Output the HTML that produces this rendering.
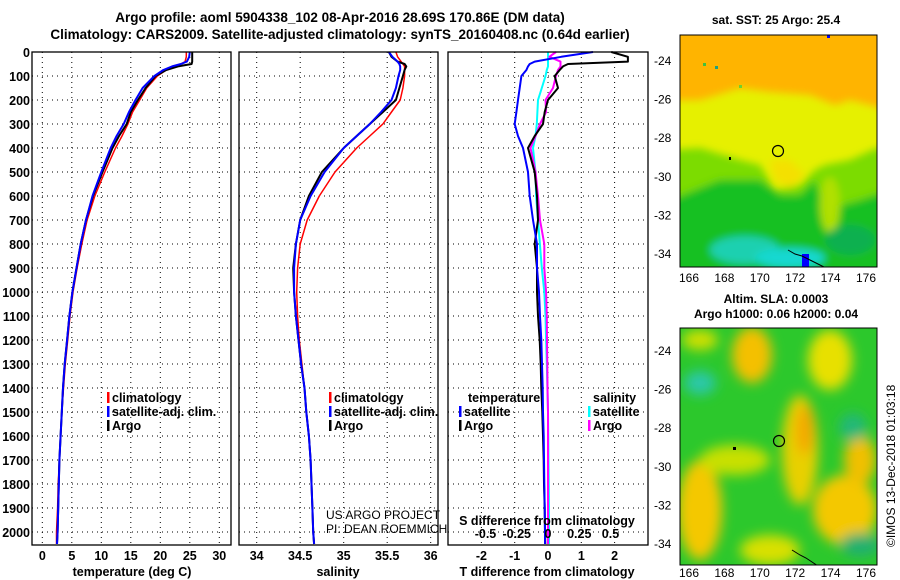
<!DOCTYPE html>
<html><head><meta charset="utf-8">
<style>
html,body{margin:0;padding:0;background:#fff;}
svg{display:block;font-family:"Liberation Sans",Arial,sans-serif;font-weight:bold;}
</style></head>
<body>
<svg id="chart" width="900" height="580" viewBox="0 0 900 580">
<defs>
<filter id="blur4" x="-20%" y="-20%" width="140%" height="140%"><feGaussianBlur stdDeviation="6"/></filter>
<filter id="blur3" x="-20%" y="-20%" width="140%" height="140%"><feGaussianBlur stdDeviation="4"/></filter>
<clipPath id="clipTop"><rect x="680" y="35" width="197" height="232"/></clipPath>
<clipPath id="clipBot"><rect x="680" y="328" width="197" height="237"/></clipPath>
</defs>
<text x="340" y="22" font-size="13.5" text-anchor="middle">Argo profile: aoml 5904338_102 08-Apr-2016 28.69S 170.86E (DM data)</text>
<text x="340" y="39" font-size="13.5" text-anchor="middle">Climatology: CARS2009. Satellite-adjusted climatology: synTS_20160408.nc (0.64d earlier)</text>
<g id="grid"></g>
<g id="series"></g>
<g id="frames"></g>
<g id="labels"></g>

<!-- top map -->
<g clip-path="url(#clipTop)">
<rect x="680" y="35" width="197" height="232" fill="#e6f000"/>
<g filter="url(#blur3)">
<path d="M670 25 L890 25 L890 110 L850 100 L835 105 L810 95 L770 92 L740 88 L700 100 L670 100Z" fill="#ffb400"/>
<path d="M670 150 L700 148 L740 160 L760 165 L775 190 L800 185 L815 170 L825 165 L850 160 L877 148 L890 150 L890 280 L670 280Z" fill="#7cdc00"/>
<path d="M670 200 L720 180 L760 180 L780 195 L800 195 L815 180 L825 210 L860 200 L890 190 L890 280 L670 280Z" fill="#18c020"/>
<ellipse cx="830" cy="205" rx="10" ry="28" fill="#b0e000"/>
<path d="M770 160 L790 160 L805 175 L790 188 L775 180Z" fill="#f4e000"/>
<ellipse cx="745" cy="250" rx="35" ry="14" fill="#1ad0b0"/>
<ellipse cx="790" cy="258" rx="35" ry="10" fill="#18d8d0"/>
<ellipse cx="850" cy="240" rx="25" ry="15" fill="#10b050"/>
</g>
<rect x="703" y="63" width="3" height="3" fill="#40c040"/>
<rect x="715" y="66" width="3" height="3" fill="#20a080"/>
<rect x="739" y="85" width="3" height="3" fill="#70d030"/>
<rect x="802" y="254" width="7" height="13" fill="#0000ff"/>
<rect x="827" y="35" width="3" height="3" fill="#0000ff"/>
<path d="M788 250 L795 254 L802 256 L808 259 L814 262 L820 265 L826 268" stroke="#000" fill="none" stroke-width="1"/>
<circle cx="778" cy="151" r="5.5" fill="none" stroke="#000" stroke-width="1.2"/>
<rect x="729" y="157" width="2" height="3" fill="#000"/>
</g>
<rect x="680" y="35" width="197" height="232" fill="none" stroke="#000"/>
<text x="776" y="24" font-size="12" text-anchor="middle">sat. SST: 25 Argo: 25.4</text>

<!-- bottom map -->
<g clip-path="url(#clipBot)">
<rect x="680" y="328" width="197" height="237" fill="#2cc82c"/>
<g filter="url(#blur4)">
<ellipse cx="752" cy="355" rx="20" ry="28" fill="#f4c000"/>
<ellipse cx="830" cy="360" rx="22" ry="30" fill="#e8e000"/>
<ellipse cx="700" cy="340" rx="18" ry="10" fill="#d0e000"/>
<ellipse cx="800" cy="450" rx="18" ry="55" fill="#e8d000"/>
<ellipse cx="805" cy="430" rx="9" ry="25" fill="#f4a800"/>
<ellipse cx="700" cy="510" rx="22" ry="50" fill="#f4c800"/>
<ellipse cx="735" cy="460" rx="35" ry="15" fill="#c8e000"/>
<ellipse cx="845" cy="510" rx="32" ry="35" fill="#f4c800"/>
<ellipse cx="860" cy="460" rx="16" ry="25" fill="#f0c000"/>
<ellipse cx="770" cy="550" rx="30" ry="15" fill="#d8e000"/>
<ellipse cx="700" cy="383" rx="16" ry="12" fill="#2cc8a8"/>
<ellipse cx="853" cy="427" rx="14" ry="14" fill="#20b878"/>
<ellipse cx="860" cy="545" rx="20" ry="12" fill="#20b070"/>
</g>
<path d="M792 550 L800 555 L806 558 L812 562 L818 566" stroke="#000" fill="none"/>
<circle cx="779" cy="441" r="5.5" fill="none" stroke="#000" stroke-width="1.2"/>
<rect x="733" y="447" width="3" height="3" fill="#000"/>
</g>
<rect x="680" y="328" width="197" height="237" fill="none" stroke="#000"/>
<text x="776" y="303" font-size="12" text-anchor="middle">Altim. SLA: 0.0003</text>
<text x="776" y="318" font-size="12" text-anchor="middle">Argo h1000: 0.06 h2000: 0.04</text>
<text transform="translate(895,547) rotate(-90)" font-size="12" font-weight="normal">©IMOS 13-Dec-2018 01:03:18</text>
<g id="maplabels"></g>
</svg>
<script>
// ---- data ----
const depths=[0,20,40,50,60,75,100,150,200,250,300,350,400,500,600,700,800,900,1000,1100,1200,1300,1400,1500,1600,1700,1800,1900,2000,2050];
const tArgo=[25.4,25.4,25.4,25.3,23,21,19.2,17.5,16.2,15,14.3,13,11.9,10.2,8.6,7.4,6.5,5.8,5.1,4.6,4.2,3.8,3.5,3.3,3.1,2.9,2.8,2.7,2.6,2.5];
const tClim=[24.4,24.4,24.2,23.5,22.5,21,19.5,17.7,16.5,15.3,14.5,13.5,12.4,10.6,8.9,7.6,6.7,5.9,5.2,4.7,4.3,3.9,3.6,3.3,3.1,2.9,2.7,2.6,2.4,2.4];
const tSat=[25,24.9,24.5,23.5,22,20.5,19,17,15.8,14.7,13.8,12.6,11.6,10,8.5,7.4,6.5,5.8,5.1,4.6,4.2,3.8,3.5,3.3,3.1,2.9,2.8,2.7,2.6,2.5];
const sArgo=[35.52,35.55,35.62,35.7,35.72,35.7,35.68,35.64,35.6,35.45,35.3,35.15,35.0,34.75,34.6,34.5,34.45,34.42,34.43,34.45,34.48,34.51,34.55,34.57,34.6,34.62,34.63,34.64,34.65,34.66];
const sClim=[35.6,35.62,35.66,35.68,35.7,35.7,35.7,35.68,35.65,35.55,35.45,35.3,35.15,34.9,34.72,34.58,34.5,34.47,34.46,34.47,34.49,34.52,34.55,34.57,34.6,34.62,34.63,34.64,34.65,34.66];
const sSat=[35.52,35.56,35.62,35.64,35.65,35.65,35.63,35.6,35.55,35.43,35.3,35.15,35.0,34.78,34.62,34.5,34.45,34.43,34.43,34.45,34.48,34.51,34.55,34.57,34.6,34.62,34.63,34.64,34.65,34.66];
const dtArgo=[1.9,2.4,2.4,0.6,0.45,0.35,0.2,0.3,0,-0.1,-0.15,-0.4,-0.6,-0.4,-0.33,-0.3,-0.4,-0.33,-0.33,-0.3,-0.25,-0.22,-0.2,-0.17,-0.15,-0.13,-0.12,-0.1,-0.09,-0.08];
const dtSat=[1.35,0.4,-0.4,-0.55,-0.6,-0.65,-0.8,-0.85,-0.9,-0.95,-1.0,-0.9,-0.75,-0.6,-0.55,-0.45,-0.33,-0.33,-0.27,-0.24,-0.2,-0.18,-0.16,-0.15,-0.13,-0.12,-0.11,-0.1,-0.09,-0.09];
const dsSat=[0,0,0,0,0,-0.01,-0.02,-0.05,-0.08,-0.085,-0.09,-0.1,-0.12,-0.1,-0.095,-0.08,-0.065,-0.05,-0.03,-0.02,-0.015,-0.01,-0.005,0,0.002,0.004,0.006,0.008,0.008,0.008];
const dsArgo=[0.064,0.01,0.1,0.1,0.1,0.08,0.064,0.04,-0.02,-0.015,-0.064,-0.1,-0.14,-0.1,-0.08,-0.064,-0.03,-0.03,-0.015,-0.01,-0.008,-0.006,-0.004,0,0,0,0,0,0,0];
const depthTicks=[0,100,200,300,400,500,600,700,800,900,1000,1100,1200,1300,1400,1500,1600,1700,1800,1900,2000];
const tTicks=[0,5,10,15,20,25,30];
const sTicks=[34,34.5,35,35.5,36];
const sTickLabels=["34","34.5","35","35.5","36"];
const dtTicks=[-2,-1,0,1,2];
const dsTicks=[-0.5,-0.25,0,0.25,0.5];
const dsTickLabels=["-0.5","-0.25","0","0.25","0.5"];
const latTicks=[-24,-26,-28,-30,-32,-34];
const lonTicks=[166,168,170,172,174,176];

// ---- axes ----
const Y0=52,Y1=545;
const yD=d=>52+d*0.24;
const xT=t=>42.3+t*5.9;
const xS=s=>256.7+(s-34)*87;
const xDT=t=>548+t*33.3;
const xDS=s=>548+s*125;
const panels=[[32,231],[239,438],[448,648]];
const NS="http://www.w3.org/2000/svg";
function mk(tag,attrs,parent){const e=document.createElementNS(NS,tag);for(const k in attrs)e.setAttribute(k,attrs[k]);parent.appendChild(e);return e;}
const grid=document.getElementById('grid'),ser=document.getElementById('series'),fr=document.getElementById('frames'),lab=document.getElementById('labels'),ml=document.getElementById('maplabels');
const dot={stroke:"#000","stroke-width":1,"stroke-dasharray":"1 4"};
panels.forEach(p=>{depthTicks.forEach(d=>{if(d===0)return;const l=mk('line',Object.assign({x1:p[0],x2:p[1],y1:yD(d),y2:yD(d)},dot),grid);

});});
function vgrid(arr,fx){arr.forEach(v=>{const l=mk('line',Object.assign({x1:fx(v),x2:fx(v),y1:Y0,y2:Y1},dot),grid);

});}
vgrid(tTicks,xT);vgrid(sTicks,xS);vgrid(dtTicks,xDT);
depthTicks.forEach(d=>{const t=mk('text',{x:30,y:yD(d)+5,'font-size':12.5,'text-anchor':'end'},lab);t.textContent=d;

});
latTicks.forEach((v,i)=>{const t=mk('text',{x:654,y:60+i*(193/5)+5,'font-size':12,'font-weight':'normal'},ml);t.textContent=v;


const u=mk('text',{x:654,y:350+i*(193/5)+5,'font-size':12,'font-weight':'normal'},ml);u.textContent=v;

});
lonTicks.forEach((v,i)=>{const x=689+i*35.4;const t=mk('text',{x:x,y:282,'font-size':12,'font-weight':'normal','text-anchor':'middle'},ml);t.textContent=v;


const u=mk('text',{x:x,y:577,'font-size':12,'font-weight':'normal','text-anchor':'middle'},ml);u.textContent=v;

});
function xlabels(arr,fx,txt,y,name){arr.forEach((v,i)=>{const t=mk('text',{x:fx(v),y:y,'font-size':12.5,'text-anchor':'middle'},lab);t.textContent=txt?txt[i]:v;

});}
xlabels(tTicks,xT,null,560,'temperature-tick-label');
xlabels(sTicks,xS,sTickLabels,560,'salinity-tick-label');
xlabels(dtTicks,xDT,null,560,'t-diff-tick-label');
xlabels(dsTicks,xDS,dsTickLabels,538,'s-diff-tick-label');
function line(xs,fx,color,w,name){const pts=xs.map((v,i)=>fx(v).toFixed(1)+','+yD(depths[i]).toFixed(1)).join(' ');
const p=mk('polyline',{points:pts,fill:'none',stroke:color,'stroke-width':w,'stroke-linejoin':'round'},ser);

}
line(tClim,xT,'#ff0000',1.5,'temperature-climatology-line');
line(tArgo,xT,'#000',2,'temperature-argo-line');
line(tSat,xT,'#0000ff',2,'temperature-satellite-line');
line(sClim,xS,'#ff0000',1.5,'salinity-climatology-line');
line(sArgo,xS,'#000',2,'salinity-argo-line');
line(sSat,xS,'#0000ff',2,'salinity-satellite-line');
line(dsSat,xDS,'#00ffff',2,'s-diff-satellite-line');
line(dsArgo,xDS,'#ff00ff',2,'s-diff-argo-line');
line(dtArgo,xDT,'#000',2,'t-diff-argo-line');
line(dtSat,xDT,'#0000ff',2,'t-diff-satellite-line');
panels.forEach((p,i)=>{const r=mk('rect',{x:p[0],y:Y0,width:p[1]-p[0],height:Y1-Y0,fill:'none',stroke:'#000','stroke-width':1.3},fr);

});
function txt(x,y,s,size,name,anchor,weight){const t=mk('text',{x:x,y:y,'font-size':size,'text-anchor':anchor||'start','font-weight':weight||'bold'},lab);t.textContent=s;

return t;}
txt(132,576,'temperature (deg C)',12.5,'temperature-axis-title','middle');
txt(338,576,'salinity',12.5,'salinity-axis-title','middle');
txt(547,576,'T difference from climatology',12.5,'t-diff-axis-title','middle');
txt(547,525,'S difference from climatology',12.5,'s-diff-axis-title','middle');
txt(326,519,'US ARGO PROJECT',12,'project-credit','start','normal');
txt(326,533,'PI: DEAN ROEMMICH',12,'pi-credit','start','normal');
function leg(x,y,color,s,name){const r=mk('rect',{x:x,y:y-10,width:2.5,height:11,fill:color},lab);


txt(x+5,y,s,12.5,name,'start');}
leg(107,402,'#ff0000','climatology','legend-t-climatology');
leg(107,416,'#0000ff','satellite-adj. clim.','legend-t-satellite');
leg(107,430,'#000','Argo','legend-t-argo');
leg(329,402,'#ff0000','climatology','legend-s-climatology');
leg(329,416,'#0000ff','satellite-adj. clim.','legend-s-satellite');
leg(329,430,'#000','Argo','legend-s-argo');
txt(468,402,'temperature',12.5,'legend-temperature-header','start');
leg(459,416,'#0000ff','satellite','legend-dt-satellite');
leg(459,430,'#000','Argo','legend-dt-argo');
txt(593,402,'salinity',12.5,'legend-salinity-header','start');
leg(588,416,'#00ffff','satellite','legend-ds-satellite');
leg(588,430,'#ff00ff','Argo','legend-ds-argo');
</script>
</body></html>
